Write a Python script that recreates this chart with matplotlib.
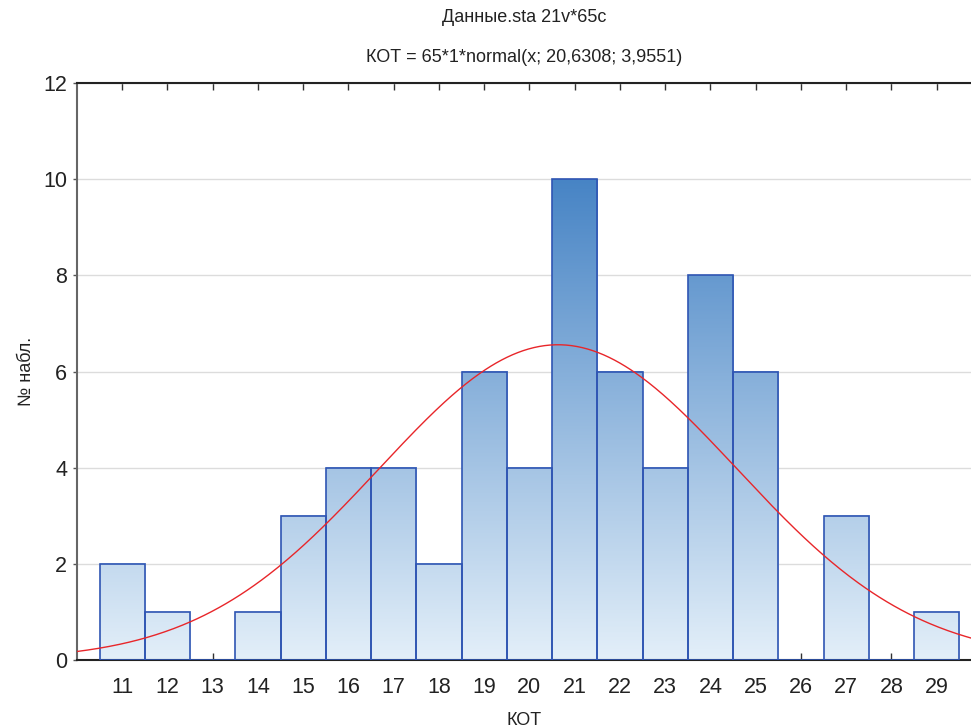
import numpy as np
import matplotlib
matplotlib.use("Agg")
import matplotlib.pyplot as plt
from matplotlib.colors import LinearSegmentedColormap, Normalize

# Data
bins = [11, 12, 13, 14, 15, 16, 17, 18, 19, 20, 21, 22, 23, 24, 25, 26, 27, 28, 29]
counts = [2, 1, 0, 1, 3, 4, 4, 2, 6, 4, 10, 6, 4, 8, 6, 0, 3, 0, 1]
n_total = 65
mu = 20.6308
sigma = 3.9551
title1 = "Данные.sta 21v*65c"
title2 = "КОТ = 65*1*normal(x; 20,6308; 3,9551)"
xlabel = "КОТ"
ylabel = "№ набл."

plt.rcParams['font.family'] = ['Liberation Sans', 'DejaVu Sans']
txt = '#222222'

fig = plt.figure(figsize=(9.71, 7.27), dpi=100)
ax = fig.add_axes([77/971, 1-660/727, 1-77/971, (660-83)/727])

cmap = LinearSegmentedColormap.from_list('g', ['#e3eff9', '#4784c5'])
norm = Normalize(0, 10)

xmin, xmax = 10.0, 29.76
ax.set_xlim(xmin, xmax)
ax.set_ylim(0, 12)

ax.set_yticks([0, 2, 4, 6, 8, 10, 12])
ax.grid(axis='y', color='#dcdcdc', lw=1)
ax.set_axisbelow(True)

for b, c in zip(bins, counts):
    if c <= 0:
        continue
    grad = np.linspace(0, c, 256).reshape(-1, 1)
    ax.imshow(grad, extent=(b-0.5, b+0.5, 0, c), origin='lower', cmap=cmap,
              norm=norm, aspect='auto', zorder=2, interpolation='bilinear')
ax.bar(bins, counts, width=1.0, facecolor='none', edgecolor='#2f55b3', lw=1.2, zorder=3)
ax.set_xlim(xmin, xmax)
ax.set_ylim(0, 12)

xs = np.linspace(xmin, xmax, 500)
ys = n_total * 1.0 / (sigma*np.sqrt(2*np.pi)) * np.exp(-0.5*((xs-mu)/sigma)**2)
ax.plot(xs, ys, color='#e8262a', lw=1.0, zorder=4)

ax.set_xticks(bins)
ax.tick_params(axis='x', direction='in', top=True, bottom=True, length=5, width=1,
               labelsize=15.5, colors='#333333', labelcolor=txt, pad=12)
ax.tick_params(axis='y', direction='out', length=3, width=1, labelsize=15.5,
               colors='#555555', labelcolor=txt, pad=4)

for s in ['top', 'bottom']:
    ax.spines[s].set_color('#222222')
    ax.spines[s].set_linewidth(1.5)
ax.spines['left'].set_color('#666666')
ax.spines['left'].set_linewidth(1.5)
ax.spines['right'].set_visible(False)

ax.set_xlabel(xlabel, fontsize=13, color=txt, labelpad=10)
ax.set_ylabel(ylabel, fontsize=13, color=txt, labelpad=6)

fig.text(0.5 + 77/971/2, 1-17/727, title1, ha='center', va='center', fontsize=13,
         color=txt)
fig.text(0.5 + 77/971/2, 1-57/727, title2, ha='center', va='center', fontsize=13,
         color=txt)

fig.savefig('out.png', dpi=100)
